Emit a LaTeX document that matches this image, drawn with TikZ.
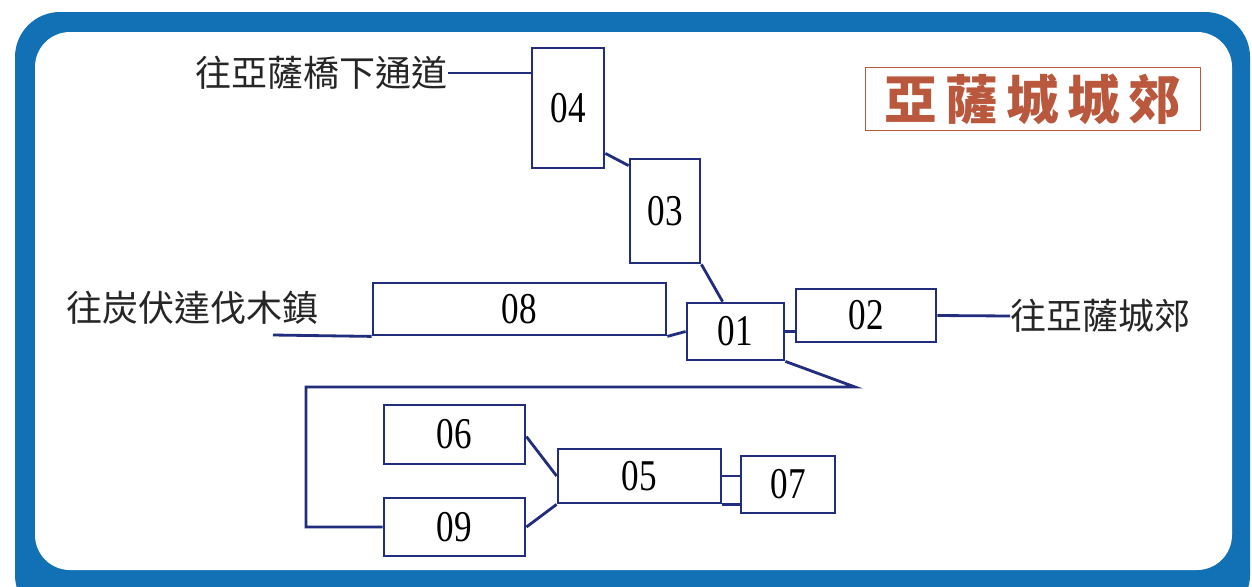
\documentclass[tikz,border=0pt]{standalone}
\usepackage{fontspec}
\setmainfont{Liberation Serif}
\newfontfamily\cjk{Noto Sans CJK TC}
\newfontfamily\titlefont[LetterSpace=16]{Noto Sans CJK TC}
\newfontfamily\numfont[FakeStretch=0.8]{Liberation Serif}
\usetikzlibrary{calc}
\definecolor{frameblue}{RGB}{18,112,180}
\definecolor{navy}{RGB}{35,45,125}
\definecolor{titlebrown}{RGB}{186,88,62}

\begin{document}
\begin{tikzpicture}[
        x=0.02cm, y=-0.02cm,
        stop/.style={rectangle, draw=navy, line width=1.6pt, fill=white, inner sep=0pt, font=\numfont\fontsize{25}{25}\selectfont},
        place/.style={inner sep=0pt, text=black!85, font=\cjk\fontsize{20.5}{24}\selectfont},
        link/.style={draw=navy, line width=1.6pt}
    ]
    \clip (0,0) rectangle (1252,586);
    \fill[white] (0,0) rectangle (1252,586);
    \fill[frameblue, rounded corners=0.9cm] (15,12) rectangle (1250,620);
    \fill[white, rounded corners=0.7cm] (35,32) rectangle (1232,570);

    \node[draw=titlebrown, line width=0.7pt, minimum width=6.7cm, minimum height=1.08cm, text=titlebrown, font=\titlefont\bfseries\fontsize{30}{32}\selectfont] (title) at (1033,99) {亞薩城城郊};

    \node[stop, minimum width=1.44cm, minimum height=2.4cm] (n04) at (568,108) {04};
    \node[stop, minimum width=1.4cm, minimum height=2.08cm] (n03) at (665,211) {03};
    \node[stop, minimum width=5.86cm, minimum height=1.04cm] (n08) at (519.5,309) {08};
    \node[stop, minimum width=1.94cm, minimum height=1.14cm] (n01) at (735.5,331.5) {01};
    \node[stop, minimum width=2.8cm, minimum height=1.06cm] (n02) at (866,315.5) {02};
    \node[stop, minimum width=2.82cm, minimum height=1.18cm] (n06) at (454.5,434.5) {06};
    \node[stop, minimum width=3.26cm, minimum height=1.08cm] (n05) at (639.5,476) {05};
    \node[stop, minimum width=1.88cm, minimum height=1.14cm] (n07) at (788,484.5) {07};
    \node[stop, minimum width=2.82cm, minimum height=1.16cm] (n09) at (454.5,527) {09};

    \node[place, anchor=east] (bridge) at (448,73) {往亞薩橋下通道};
    \node[place, anchor=west] (mill) at (66,308) {往炭伏達伐木鎮};
    \node[place, anchor=west] (suburb) at (1010,316) {往亞薩城郊};

    \coordinate (mill end) at (273,335);
    \coordinate (loop tip) at (855,387);
    \coordinate (loop corner) at (306,387);

    \draw[link] (bridge.east) -- (bridge.east -| n04.west);
    \draw[link] ($(n04.south east)+(0,-16)$) -- ($(n03.north west)+(0,8)$);
    \draw[link] (n03.south east) -- ($(n01.north west)+(37,0)$);
    \draw[link] (mill end) -- (n08.south west);
    \draw[link] (n08.south east) -- (n01.west);
    \draw[link] (n01.east) -- (n01.east -| n02.west);
    \draw[link] (n02.east) -- (suburb.west);
    \draw[link] (n01.south east) -- (loop tip) -- (loop corner) |- (n09.west);
    \draw[link] ($(n06.north east)+(0,33)$) -- (n05.west);
    \draw[link] (n09.east) -- (n05.south west);
    \draw[link] (n05.east) -- (n05.east -| n07.west);
    \draw[link] (n05.south east) -- (n05.south east -| n07.west);
\end{tikzpicture}
\end{document}
